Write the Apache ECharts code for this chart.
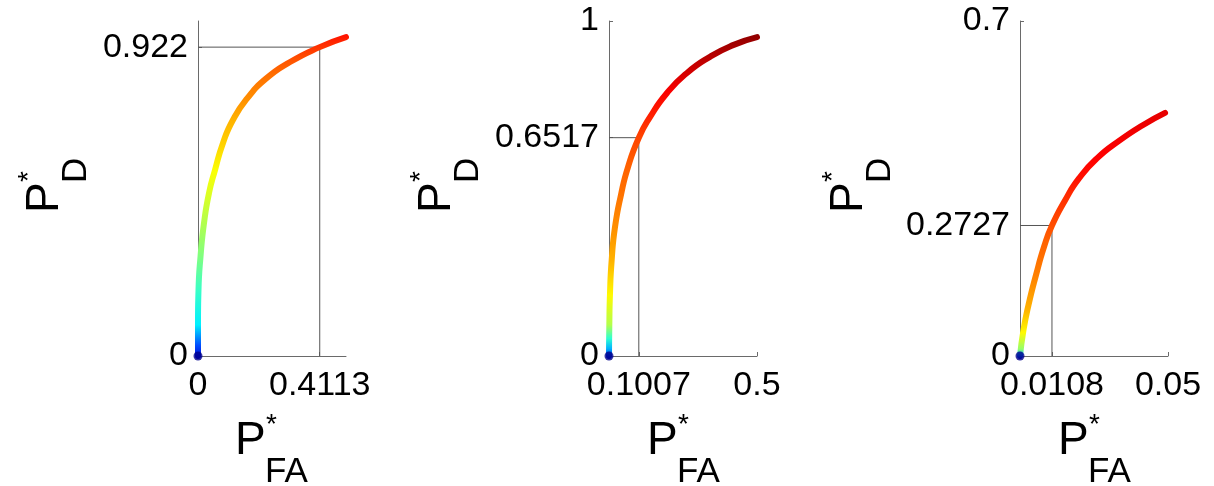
<!DOCTYPE html>
<html><head><meta charset="utf-8">
<script src="https://cdn.jsdelivr.net/npm/echarts@6/dist/echarts.min.js"></script>
<style>html,body{margin:0;padding:0;background:#fff}#c{width:1214px;height:486px}</style>
</head><body><div id="c"></div>
<script>
// ---- Panel 1 ----
const p1X = [0, 0, 0.0017, 0.0084, 0.0203, 0.0372, 0.0574, 0.0845, 0.118, 0.1655, 0.2297, 0.311, 0.4113, 0.5];
const p1Y = [0, 0.0985, 0.197, 0.2955, 0.397, 0.4866, 0.555, 0.636, 0.7045, 0.768, 0.828, 0.8776, 0.922, 0.952];
const p1XMax = 0.5, p1YMax = 1;
const p1XTicks = [0, 0.4113];
const p1YTicks = [0, 0.922];
const p1Star = [0.4113, 0.922];
const p1ColorY = [0, 0.04, 0.1, 0.2, 0.3, 0.4, 0.5, 0.55, 0.63, 0.7, 0.76, 0.83, 0.88, 0.92, 0.952];
const p1ColorV = [0.08, 0.2, 0.36, 0.43, 0.5, 0.55, 0.6, 0.62, 0.67, 0.70, 0.735, 0.765, 0.797, 0.83, 0.86];

// ---- Panel 2 ----
const p2X = [0, 0.001, 0.0034, 0.0091, 0.0203, 0.0405, 0.0642, 0.1007, 0.1385, 0.196, 0.2635, 0.341, 0.419, 0.5];
const p2Y = [0, 0.0866, 0.188, 0.2866, 0.385, 0.481, 0.564, 0.6517, 0.713, 0.785, 0.845, 0.893, 0.928, 0.952];
const p2XMax = 0.5, p2YMax = 1;
const p2XTicks = [0.1007, 0.5];
const p2YTicks = [0, 0.6517, 1];
const p2Star = [0.1007, 0.6517];
const p2ColorY = [0, 0.03, 0.06, 0.1, 0.187, 0.287, 0.386, 0.49, 0.565, 0.655, 0.714, 0.784, 0.844, 0.894, 0.928, 0.952];
const p2ColorV = [0.08, 0.3, 0.42, 0.55, 0.63, 0.70, 0.735, 0.765, 0.78, 0.81, 0.845, 0.88, 0.92, 0.95, 0.97, 0.985];

// ---- Panel 3 ----
const p3X = [0, 0.00118, 0.00287, 0.0054, 0.0081, 0.0108, 0.0152, 0.0198, 0.026, 0.0338, 0.0416, 0.049];
const p3Y = [0, 0.0543, 0.1066, 0.169, 0.2277, 0.2727, 0.325, 0.370, 0.413, 0.451, 0.4827, 0.508];
const p3XMax = 0.05, p3YMax = 0.7;
const p3XTicks = [0.0108, 0.05];
const p3YTicks = [0, 0.2727, 0.7];
const p3Star = [0.0108, 0.2727];
const p3ColorY = [0, 0.008, 0.02, 0.054, 0.1, 0.17, 0.24, 0.274, 0.33, 0.37, 0.41, 0.45, 0.508];
const p3ColorV = [0.08, 0.3, 0.52, 0.63, 0.70, 0.75, 0.78, 0.80, 0.83, 0.86, 0.875, 0.885, 0.90];

const panels = [
  {x:p1X, y:p1Y, xMax:p1XMax, yMax:p1YMax, xT:p1XTicks, yT:p1YTicks, star:p1Star, cy:p1ColorY, cv:p1ColorV},
  {x:p2X, y:p2Y, xMax:p2XMax, yMax:p2YMax, xT:p2XTicks, yT:p2YTicks, star:p2Star, cy:p2ColorY, cv:p2ColorV},
  {x:p3X, y:p3Y, xMax:p3XMax, yMax:p3YMax, xT:p3XTicks, yT:p3YTicks, star:p3Star, cy:p3ColorY, cv:p3ColorV}
];

function clamp(v){ return Math.max(0, Math.min(1, v)); }
function jet(v){
  const r = clamp(1.5 - Math.abs(4*v - 3));
  const g = clamp(1.5 - Math.abs(4*v - 2));
  const b = clamp(1.5 - Math.abs(4*v - 1));
  return 'rgb(' + Math.round(r*255) + ',' + Math.round(g*255) + ',' + Math.round(b*255) + ')';
}

const FONT = '"Liberation Sans", Arial, Helvetica, sans-serif';
const AX = '#6a6a6a';
const lefts = [198, 609, 1020];

const grid = [], xAxis = [], yAxis = [], series = [];
panels.forEach((p, i) => {
  grid.push({left: lefts[i], top: 21, width: 148, height: 335});
  const lbl = (ticks) => ({customValues: ticks, fontSize: 34, color: '#000', fontFamily: FONT,
                           formatter: v => String(v)});
  xAxis.push({gridIndex: i, type: 'value', min: 0, max: p.xMax,
    axisLine: {show: true, onZero: false, lineStyle: {color: AX, width: 1}},
    axisTick: {show: true, inside: true, length: 4, customValues: p.xT, lineStyle: {color: AX}},
    axisLabel: Object.assign(lbl(p.xT), {margin: 13}),
    splitLine: {show: false}});
  yAxis.push({gridIndex: i, type: 'value', min: 0, max: p.yMax,
    axisLine: {show: true, onZero: false, lineStyle: {color: AX, width: 1}},
    axisTick: {show: true, inside: true, length: 4, customValues: p.yT, lineStyle: {color: AX}},
    axisLabel: Object.assign(lbl(p.yT), {margin: 10}),
    splitLine: {show: false}});
  const yEnd = p.y[p.y.length - 1];
  const stops = p.cy.map((cy, k) => ({offset: clamp(cy / yEnd), color: jet(p.cv[k])}));
  series.push({type: 'line', xAxisIndex: i, yAxisIndex: i, z: 2, silent: true,
    data: [[0, p.star[1]], [p.star[0], p.star[1]], [p.star[0], 0]],
    symbol: 'none', lineStyle: {color: '#555', width: 1}});
  series.push({type: 'line', xAxisIndex: i, yAxisIndex: i, z: 3, silent: true,
    data: p.x.map((x, k) => [x, p.y[k]]), smooth: 0.55, symbol: 'none', showSymbol: false,
    lineStyle: {width: 6, cap: 'round', join: 'round',
      color: new echarts.graphic.LinearGradient(0, 1, 0, 0, stops)}});
  series.push({type: 'scatter', xAxisIndex: i, yAxisIndex: i, z: 4, silent: true,
    data: [[p.x[0], p.y[0]]], symbolSize: 9, itemStyle: {color: '#00008c'}});
});

function axisName(px, py, rot, sub){
  return {type: 'group', x: px, y: py, rotation: rot, silent: true, children: [
    {type: 'text', x: 0, y: 0, style: {text: 'P', font: '46px ' + FONT, fill: '#000', align: 'left', verticalAlign: 'middle'}},
    {type: 'text', x: 31, y: -16, style: {text: '*', font: '28px ' + FONT, fill: '#000', align: 'left', verticalAlign: 'middle'}},
    {type: 'text', x: 30, y: 31, style: {text: sub, font: '35px ' + FONT, fill: '#000', align: 'left', verticalAlign: 'middle'}}
  ]};
}
const graphic = [
  axisName(235, 441, 0, 'FA'), axisName(647, 441, 0, 'FA'), axisName(1058, 441, 0, 'FA'),
  axisName(45, 213, Math.PI/2, 'D'), axisName(437, 213, Math.PI/2, 'D'), axisName(849, 213, Math.PI/2, 'D')
];

const chart = echarts.init(document.getElementById('c'), null, {renderer: 'canvas'});
chart.setOption({animation: false, backgroundColor: '#fff', grid, xAxis, yAxis, series, graphic});
</script></body></html>
